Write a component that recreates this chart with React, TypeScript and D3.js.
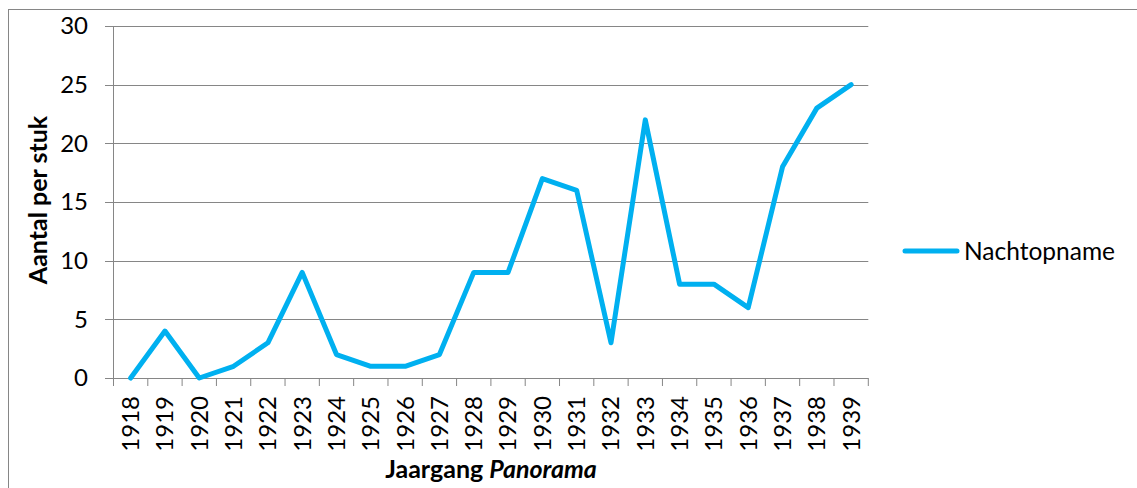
import React from "react";
import * as d3 from "d3";

const years = ["1918","1919","1920","1921","1922","1923","1924","1925","1926","1927","1928","1929","1930","1931","1932","1933","1934","1935","1936","1937","1938","1939"];
const nachtopname = [0,4,0,1,3,9,2,1,1,2,9,9,17,16,3,22,8,8,6,18,23,25];
const yTicks = [0,5,10,15,20,25,30];
const seriesName = "Nachtopname";

const FONT = "Lato, 'Open Sans', sans-serif";
const GRID = "#868686";
const BLUE = "#00B0F0";

export default function App() {
  const W = 1137, H = 488;
  const x0 = 113.5, x1 = 868.3, yTop = 26, yBot = 378;
  const x = d3.scaleBand<string>().domain(years).range([x0, x1]);
  const y = d3.scaleLinear().domain([0, 30]).range([yBot, yTop]);
  const line = d3.line<number>()
    .x((_, i) => (x(years[i]) as number) + x.bandwidth() / 2)
    .y((d) => y(d));
  const boundaries = d3.range(years.length + 1).map((i) => x0 + i * x.bandwidth());
  return (
    <svg width={W} height={H} style={{ position: "absolute", left: 0, top: 0, background: "#fff" }}>
      <rect x={8.5} y={9.5} width={1140} height={490} fill="#fff" stroke={GRID} strokeWidth={1} />
      {yTicks.map((t) => (
        <g key={t}>
          <line x1={105} x2={x1} y1={Math.round(y(t)) + 0.5} y2={Math.round(y(t)) + 0.5} stroke={GRID} strokeWidth={1} />
          <text x={88} y={y(t)} dy="0.35em" textAnchor="end" fontFamily={FONT} fontSize={24} fill="#000">{t}</text>
        </g>
      ))}
      <line x1={x0} x2={x0} y1={yTop} y2={yBot} stroke={GRID} strokeWidth={1} />
      {boundaries.map((b, i) => (
        <line key={i} x1={b} x2={b} y1={yBot} y2={386} stroke={GRID} strokeWidth={1} />
      ))}
      {years.map((yr) => {
        const cx = (x(yr) as number) + x.bandwidth() / 2;
        return (
          <text key={yr} transform={`translate(${cx},396) rotate(-90)`} dy="0.35em" textAnchor="end" fontFamily={FONT} fontSize={24} fill="#000">{yr}</text>
        );
      })}
      <path d={line(nachtopname) || ""} fill="none" stroke={BLUE} strokeWidth={5} strokeLinejoin="round" strokeLinecap="round" />
      <text transform={`translate(38,200) rotate(-90)`} dy="0.35em" textAnchor="middle" fontFamily={FONT} fontSize={25} fontWeight="bold" fill="#000">Aantal per stuk</text>
      <text x={491} y={478} textAnchor="middle" fontFamily={FONT} fontSize={25} fontWeight="bold" fill="#000">
        Jaargang <tspan fontStyle="italic">Panorama</tspan>
      </text>
      <line x1={905} x2={957} y1={251} y2={251} stroke={BLUE} strokeWidth={5} strokeLinecap="round" />
      <text x={964} y={251} dy="0.35em" fontFamily={FONT} fontSize={24.5} fill="#000">{seriesName}</text>
    </svg>
  );
}
